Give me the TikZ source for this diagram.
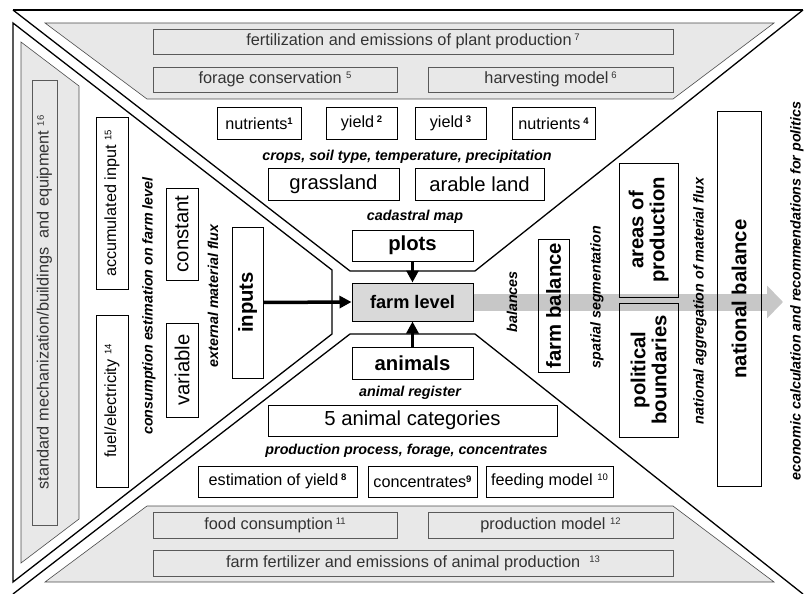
\documentclass[tikz,border=0pt]{standalone}
\usepackage{fontspec}
\setmainfont{Liberation Sans}
\usetikzlibrary{arrows.meta}
\newcommand\fsz[2]{\fontsize{#1}{#2}\selectfont}
\newcommand\upr[1]{\raisebox{0.55ex}{\fontsize{9.5}{9.5}\selectfont #1}}
\newcommand\upbf[1]{\raisebox{0.55ex}{\fontsize{9.5}{9.5}\selectfont\bfseries #1}}
\tikzset{
  pbox/.style={draw=black!65, line width=0.6pt, inner sep=0pt, text=black!80, font=\fsz{16.3}{18}},
  wbox/.style={draw=black, line width=1pt, fill=white, inner sep=0pt, font=\fsz{16.2}{18}},
  bigbox/.style={wbox, font=\fsz{20.3}{22}},
  boldbox/.style={draw=black, line width=1pt, inner sep=0pt, font=\fsz{20.3}{21}\bfseries, align=center},
  lbl/.style={font=\fsz{14.3}{15}\bfseries\itshape, inner sep=0pt},
  frameline/.style={line width=1.3pt, line join=miter},
  panel/.style={fill=black!9, draw=black!70, line width=0.6pt},
  bigarrow/.style={line width=3.5pt, -{Triangle[length=12pt,width=12pt]}},
  band/.style={line width=17pt, draw=black!22, -{Triangle[length=16pt,width=32pt]}},
}
\begin{document}
\begin{tikzpicture}[x=1pt,y=-1pt]
\useasboundingbox (0,0) rectangle (804,594);
% grey panels
\path[panel] (45,23) -- (774,23) -- (673,99) -- (147,99) -- cycle;
\path[panel] (21,42) -- (79,86) -- (79,519) -- (21,563) -- cycle;
\path[panel] (147,506) -- (673,506) -- (774,582) -- (45,582) -- cycle;
% frame
\draw[frameline] (13,10) -- (803,10);
\draw[frameline] (13,10) -- (350,271) -- (475,271) -- (803,10);
\draw[frameline] (13,23) -- (332,270) -- (332,334) -- (13,582) -- cycle;
\draw[frameline] (13,594) -- (350,334) -- (475,334) -- (803,594);
% top panel boxes
\node[pbox, minimum width=520pt, minimum height=25pt] (fert) at (413,41.5) {fertilization and emissions of plant production\,\upr{7}};
\node[pbox, minimum width=244pt, minimum height=25pt] (forage) at (275,79.5) {forage conservation \upr{5}};
\node[pbox, minimum width=245pt, minimum height=25pt] (harv) at (550.5,79.5) {harvesting model\,\upr{6}};
% top white boxes
\node[wbox, minimum width=84pt, minimum height=31pt] (nut1) at (259,123.5) {nutrients\upbf{1}};
\node[wbox, minimum width=71pt, minimum height=31pt] (yld2) at (361.5,123.5) {yield\,\upbf{2}};
\node[wbox, minimum width=71pt, minimum height=31pt] (yld3) at (450.5,123.5) {yield\,\upbf{3}};
\node[wbox, minimum width=83pt, minimum height=31pt] (nut4) at (553.5,123.5) {nutrients\,\upbf{4}};
\node[lbl] (crops) at (407,157) {crops, soil type, temperature, precipitation};
\node[bigbox, minimum width=131pt, minimum height=32pt] (grass) at (333.5,184) {grassland};
\node[bigbox, minimum width=129pt, minimum height=32pt] (arable) at (479.5,184) {arable land};
\node[lbl] (cad) at (415,217) {cadastral map};
\node[boldbox, fill=white, minimum width=121pt, minimum height=31pt] (plots) at (412.5,245.5) {plots};
\node[draw=black, line width=1pt, fill=black!15, inner sep=0pt, minimum width=121pt, minimum height=38pt, font=\fsz{18.2}{19}\bfseries] (farm) at (412.5,302) {farm level};
\node[boldbox, fill=white, minimum width=121pt, minimum height=32pt] (animals) at (412.5,363) {animals};
\node[lbl] (areg) at (410,393) {animal register};
\node[bigbox, minimum width=289pt, minimum height=31pt] (cat) at (412.5,420.5) {5 animal categories};
\node[lbl] (proc) at (406.5,451) {production process, forage, concentrates};
\node[wbox, minimum width=159pt, minimum height=31pt] (esty) at (277.5,481.5) {estimation of yield\,\upbf{8}};
\node[wbox, minimum width=109pt, minimum height=31pt] (conc) at (422.5,481.5) {concentrates\upbf{9}};
\node[wbox, minimum width=127pt, minimum height=31pt] (feed) at (549.5,481.5) {feeding model \upr{10}};
% bottom panel boxes
\node[pbox, minimum width=244pt, minimum height=26pt] (food) at (275,525) {food consumption\,\upr{11}};
\node[pbox, minimum width=245pt, minimum height=26pt] (pmod) at (550.5,525) {production model \upr{12}};
\node[pbox, minimum width=520pt, minimum height=26pt] (ffert) at (413,563) {farm fertilizer and emissions of animal production \ \upr{13}};
% left panel
\node[pbox, rotate=90, minimum width=445pt, minimum height=25pt] (std) at (44.5,302.5) {standard mechanization/buildings \ and equipment \upr{16}};
\node[wbox, rotate=90, minimum width=171pt, minimum height=32pt] (accum) at (112,203.5) {accumulated input \upr{15}};
\node[wbox, rotate=90, minimum width=172pt, minimum height=32pt] (fuel) at (112,401) {fuel/electricity \upr{14}};
\node[lbl, rotate=90] (cons) at (149,306) {consumption estimation on farm level};
\node[bigbox, rotate=90, minimum width=92pt, minimum height=32pt] (const) at (182,234) {constant};
\node[bigbox, rotate=90, minimum width=94pt, minimum height=32pt] (var) at (182,370) {variable};
\node[lbl, rotate=90] (ext) at (213,296) {external material flux};
\node[boldbox, fill=white, rotate=90, minimum width=151pt, minimum height=31pt] (inputs) at (247.5,302.5) {inputs};
% grey band arrow
\coordinate (bandend) at (783,302);
\draw[band] (farm.east) -- (bandend);
% arrows into farm level
\draw[bigarrow] (plots.south) -- (farm.north);
\draw[bigarrow] (animals.north) -- (farm.south);
\draw[bigarrow] (inputs.south) -- (farm.west);
% right part
\node[lbl, rotate=90] (bal) at (512,302) {balances};
\node[boldbox, rotate=90, minimum width=133pt, minimum height=31pt] (fbal) at (553.5,305.5) {farm balance};
\node[lbl, rotate=90] (spat) at (597,297) {spatial segmentation};
\node[boldbox, rotate=90, minimum width=134pt, minimum height=59pt] (areas) at (648.5,230) {areas of\\production};
\node[boldbox, rotate=90, minimum width=134pt, minimum height=59pt] (pol) at (648.5,370) {political\\boundaries};
\node[lbl, rotate=90] (nagg) at (700,301) {national aggregation of material flux};
\node[boldbox, rotate=90, minimum width=374pt, minimum height=44pt] (nbal) at (739,299) {national balance};
\node[lbl, rotate=90] (econ) at (797,291) {economic calculation and recommendations for politics};
\end{tikzpicture}
\end{document}
